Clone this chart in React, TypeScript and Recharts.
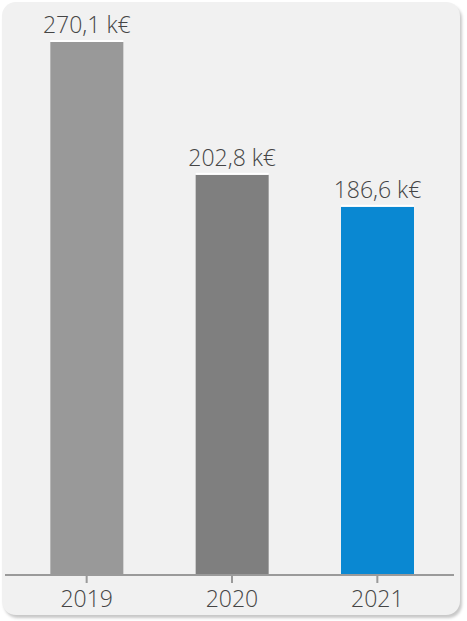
import { BarChart, Bar, XAxis, YAxis, Cell, LabelList } from "recharts";

const years = ["2019", "2020", "2021"];
const amounts = [270.1, 202.8, 186.6];
const barColors = ["#999999", "#7f7f7f", "#0a88d2"];

const chartData = years.map((year, i) => ({ year, value: amounts[i] }));

const formatK = (v: number) => `${v.toFixed(1).replace(".", ",")} k€`;

function BarWithCap(props: any) {
  const { x, y, width, height, fill } = props;
  return (
    <g>
      <rect x={x} y={y} width={width} height={height} fill={fill} />
      <rect x={x} y={y - 2} width={width} height={2} fill="#ffffff" />
    </g>
  );
}

export default function App() {
  return (
    <div style={{ position: "absolute", left: 0, top: 0, width: 467, height: 621, background: "#ffffff" }}>
      <div
        style={{
          position: "absolute",
          left: 2,
          top: 2,
          width: 458,
          height: 613,
          background: "#f1f1f1",
          borderRadius: 14,
          boxShadow: "2px 3px 3px rgba(0,0,0,0.22)",
        }}
      />
      <div style={{ position: "absolute", left: 0, top: 0 }}>
        <BarChart
          width={467}
          height={621}
          data={chartData}
          margin={{ top: 42, right: 13, bottom: 0, left: 5 }}
          barCategoryGap="25%"
        >
          <YAxis hide domain={[0, 270.1]} />
          <XAxis
            dataKey="year"
            height={46}
            padding={{ left: 9, right: 4 }}
            axisLine={{ stroke: "#9a9a9a", strokeWidth: 2 }}
            tickLine={{ stroke: "#9a9a9a", strokeWidth: 2 }}
            tickSize={8}
            tick={{ fill: "#454545", fontSize: 23, fontFamily: "Open Sans", fontWeight: 300 }}
            tickMargin={8}
            interval={0}
          />
          <Bar dataKey="value" shape={<BarWithCap />} isAnimationActive={false}>
            {chartData.map((d, i) => (
              <Cell key={d.year} fill={barColors[i]} />
            ))}
            <LabelList
              dataKey="value"
              position="top"
              offset={9}
              formatter={(v: any) => formatK(Number(v))}
              style={{ fill: "#454545", fontSize: 23, fontFamily: "Open Sans", fontWeight: 300 }}
            />
          </Bar>
        </BarChart>
      </div>
    </div>
  );
}
